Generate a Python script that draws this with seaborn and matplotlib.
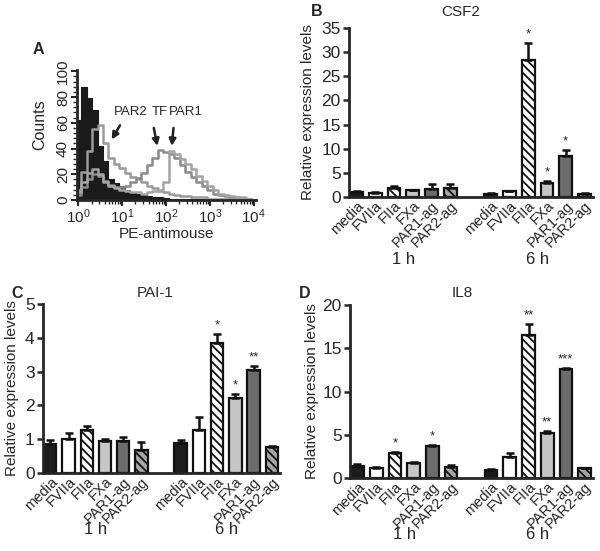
import numpy as np
import pandas as pd
import matplotlib
matplotlib.use("Agg")
import matplotlib.pyplot as plt
from matplotlib.ticker import MultipleLocator, LogLocator, NullFormatter
import seaborn as sns

sns.set_style("ticks")
plt.rcParams["font.family"] = ["Liberation Sans", "DejaVu Sans"]
plt.rcParams["hatch.linewidth"] = 1.3

# ---- panel A: flow cytometry histograms (x = log10 decade) ----
decade = [0.0, 0.125, 0.25, 0.375, 0.5, 0.625, 0.75, 0.875, 1.0, 1.125, 1.25,
          1.375, 1.5, 1.625, 1.75, 1.875, 2.0, 2.125, 2.25, 2.375, 2.5, 2.625,
          2.75, 2.875, 3.0, 3.125, 3.25, 3.375, 3.5, 3.625, 3.75, 3.875, 4.0]
ctrl = [62, 88, 79, 70, 42, 30, 16, 13, 11, 8, 6, 5, 4, 3, 2, 2, 1.5, 1, 1, 1,
        1, 1, 1, 1, 1, 1, 1, 1, 1, 1, 1, 1, 1]
par2 = [8, 22, 38, 55, 58, 44, 33, 28, 25, 21, 18, 16, 14, 11, 9, 7, 6, 5, 4,
        3, 3, 2, 2, 2, 1, 1, 1, 1, 1, 1, 1, 1, 0]
tf = [4, 10, 16, 20, 19, 15, 12, 10, 10, 11, 14, 17, 21, 27, 33, 39, 37, 36,
      33, 27, 22, 18, 14, 11, 8, 5, 4, 3, 2, 2, 1, 1, 0]
par1 = [6, 14, 21, 24, 20, 14, 11, 9, 8, 7, 6, 6, 5, 6, 7, 8, 14, 38, 36, 32,
        28, 24, 19, 15, 11, 8, 5, 4, 3, 2, 2, 1, 0]

# ---- bar panels ----
treatments = ["media", "FVIIa", "FIIa", "FXa", "PAR1-ag", "PAR2-ag"]
times = ["1 h", "6 h"]

csf2_vals = [1.0, 0.9, 1.9, 1.4, 1.7, 1.8, 0.7, 1.2, 28.4, 3.0, 8.4, 0.7]
csf2_err = [0.15, 0.1, 0.4, 0.15, 0.9, 0.8, 0.1, 0.1, 3.4, 0.3, 1.3, 0.05]
csf2_sig = ["", "", "", "", "", "", "", "", "*", "*", "*", ""]

pai1_vals = [0.87, 1.0, 1.28, 0.94, 0.95, 0.69, 0.88, 1.28, 3.85, 2.22, 3.05, 0.78]
pai1_err = [0.11, 0.18, 0.1, 0.08, 0.11, 0.23, 0.1, 0.38, 0.25, 0.12, 0.12, 0.02]
pai1_sig = ["", "", "", "", "", "", "", "", "*", "*", "**", ""]

il8_vals = [1.35, 1.2, 2.85, 1.7, 3.75, 1.25, 0.95, 2.4, 16.5, 5.2, 12.6, 1.15]
il8_err = [0.3, 0.05, 0.1, 0.15, 0.05, 0.25, 0.05, 0.45, 1.3, 0.2, 0.15, 0.05]
il8_sig = ["", "", "*", "", "*", "", "", "", "**", "**", "***", ""]

fills = ["#1c1c1c", "white", "white", "#c6c6c6", "#6c6c6c", "#a6a6a6"]
hatches = [None, None, "\\\\\\\\", None, None, "\\\\\\\\"]

W, H = 600, 551
fig = plt.figure(figsize=(W / 100, H / 100), dpi=100)


def rect(l, t, r, b):
    return [l / W, 1 - b / H, (r - l) / W, (b - t) / H]


def ftext(x, y, s, **kw):
    fig.text(x / W, 1 - y / H, s, **kw)


# ---------------- panel A ----------------
axA = fig.add_axes(rect(77, 70, 256, 200))
xs = [10 ** d for d in decade]
sns.histplot(x=xs, weights=ctrl, bins=len(decade), binrange=(-0.0625, 4.0625),
             log_scale=True, element="step", fill=True, color="#1a1a1a",
             alpha=1, linewidth=0.8, ax=axA)
for cnt, col in [(par2, "#9a9a9a"), (tf, "#8a8a8a"), (par1, "#a4a4a4")]:
    sns.histplot(x=xs, weights=cnt, bins=len(decade), binrange=(-0.0625, 4.0625),
                 log_scale=True, element="step", fill=False, color=col,
                 linewidth=1.8, ax=axA)
axA.set_xlim(10 ** -0.03, 10 ** 4.05)
axA.set_ylim(0, 101)
axA.yaxis.set_major_locator(MultipleLocator(20))
axA.yaxis.set_minor_locator(MultipleLocator(4))
axA.xaxis.set_major_locator(LogLocator(base=10, numticks=10))
axA.xaxis.set_minor_locator(LogLocator(base=10, subs=np.arange(2, 10), numticks=50))
axA.xaxis.set_minor_formatter(NullFormatter())
axA.tick_params(axis="both", which="major", labelsize=11, width=1.5, length=4, pad=1)
axA.tick_params(axis="both", which="minor", width=1.0, length=3)
plt.setp(axA.get_yticklabels(), rotation=90, va="center")
for s in ["left", "bottom"]:
    axA.spines[s].set_linewidth(2)
sns.despine(ax=axA)
axA.set_ylabel("")
axA.set_xlabel("")
ftext(40, 125, "Counts", rotation=90, ha="center", va="center", fontsize=11.5)
ftext(166, 234, "PE-antimouse", ha="center", va="center", fontsize=11)
ftext(38, 50, "A", ha="center", va="center", fontsize=11.5, fontweight="bold")
for lab, tx, (hx, hy), (sx, sy) in [("PAR2", 1.19, (0.76, 47), (0.95, 58)),
                                    ("TF", 1.86, (1.80, 42), (1.72, 56)),
                                    ("PAR1", 2.46, (2.13, 42), (2.17, 56))]:
    axA.text(10 ** tx, 68, lab, ha="center", va="center", fontsize=9.5)
    axA.annotate("", xy=(10 ** hx, hy), xytext=(10 ** sx, sy),
                 arrowprops=dict(arrowstyle="-|>", color="#222222", lw=1.8,
                                 mutation_scale=10, shrinkA=0, shrinkB=0))

# ---------------- bar panels ----------------
pos = [0, 1, 2, 3, 4, 5, 7.15, 8.15, 9.15, 10.15, 11.15, 12.15]


def bar_panel(box, vals, errs, sig, ymax, ystep, title, letter, lab_y, title_xy,
              letter_xy, ylab_x):
    ax = fig.add_axes(rect(*box))
    df = pd.DataFrame({"pos": pos, "val": vals})
    sns.barplot(data=df, x="pos", y="val", native_scale=True, width=0.68,
                color="white", errorbar=None, ax=ax)
    for i, p in enumerate(ax.patches):
        k = i % 6
        p.set_facecolor(fills[k])
        p.set_edgecolor("#111111")
        p.set_linewidth(1.6)
        if hatches[k]:
            p.set_hatch(hatches[k])
    lower = [0] * len(vals)
    ax.errorbar(pos, vals, yerr=[lower, errs], fmt="none", ecolor="#111111",
                elinewidth=1.8, capsize=3.2, capthick=1.8, zorder=1)
    for x, v, e, s in zip(pos, vals, errs, sig):
        if s:
            ax.text(x, v + e + ymax * 0.015, s, ha="center", va="bottom",
                    fontsize=9.5)
    ax.set_xlim(-0.4, 12.6)
    ax.set_ylim(0, ymax)
    ax.yaxis.set_major_locator(MultipleLocator(ystep))
    ax.set_xticks(pos)
    ax.set_xticklabels(treatments * 2, rotation=45, ha="right", va="top",
                       rotation_mode="anchor", fontsize=10.5)
    ax.tick_params(axis="x", length=0, pad=1)
    ax.tick_params(axis="y", labelsize=12.5, width=1.8, length=4, pad=2)
    for s in ["left", "bottom"]:
        ax.spines[s].set_linewidth(2)
    sns.despine(ax=ax)
    ax.set_xlabel("")
    ax.set_ylabel("")
    tr = ax.get_xaxis_transform()
    ax.text(2.5, lab_y, times[0], transform=tr, ha="center", va="center",
            fontsize=12)
    ax.text(9.65, lab_y, times[1], transform=tr, ha="center", va="center",
            fontsize=12)
    ftext(title_xy[0], title_xy[1], title, ha="center", va="center", fontsize=11)
    ftext(letter_xy[0], letter_xy[1], letter, ha="center", va="center",
          fontsize=11.5, fontweight="bold")
    ftext(ylab_x, (box[1] + box[3]) / 2, "Relative expression levels",
          rotation=90, ha="center", va="center", fontsize=11)
    return ax


bar_panel((349, 28, 593, 197), csf2_vals, csf2_err, csf2_sig, 35, 5, "CSF2",
          "B", -0.37, (461, 12), (317, 12), 308)
bar_panel((43, 304, 280, 473), pai1_vals, pai1_err, pai1_sig, 5, 1, "PAI-1",
          "C", -0.335, (155, 293), (17, 293), 12)
bar_panel((350, 305, 593, 478), il8_vals, il8_err, il8_sig, 20, 5, "IL8",
          "D", -0.325, (462, 293), (305, 293), 312)

fig.savefig("out.png", dpi=100)
